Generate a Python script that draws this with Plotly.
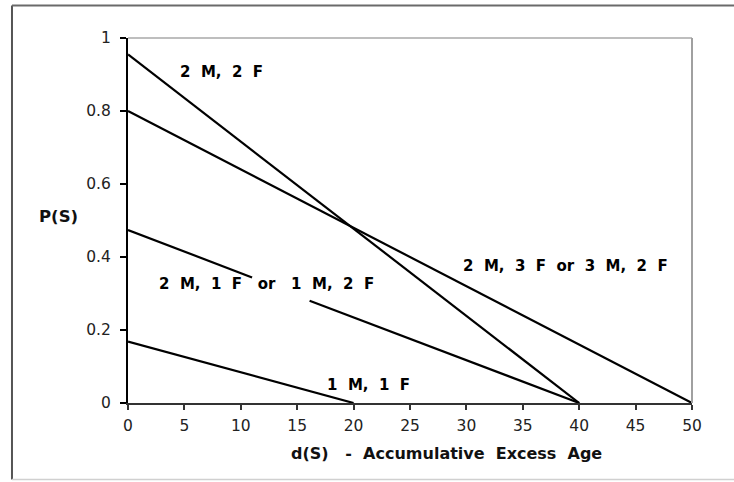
import plotly.graph_objects as go

# Survival probability P(S) against accumulated excess age d(S)
d_2m2f = [0, 40]
p_2m2f = [0.955, 0]

d_23 = [0, 50]
p_23 = [0.80, 0]

# drawn in two pieces, leaving room for its label
d_21 = [0, 11, None, 16.1, 40]
p_21 = [0.474, 0.344, None, 0.28, 0]

d_1m1f = [0, 20]
p_1m1f = [0.168, 0]

x_ticks = [0, 5, 10, 15, 20, 25, 30, 35, 40, 45, 50]
y_ticks = [0, 0.2, 0.4, 0.6, 0.8, 1]
y_tick_text = ["0", "0.2", "0.4", "0.6", "0.8", "1"]

labels = [
    ("2  M,  2  F", 8.3, 0.907),
    ("2  M,  3  F  or  3  M,  2  F", 38.8, 0.375),
    ("2  M,  1  F   or   1  M,  2  F", 12.3, 0.326),
    ("1  M,  1  F", 21.3, 0.049),
]

FONT = "DejaVu Sans"
NB = "\u00a0"


def spaced(text):
    # keep runs of spaces visible in SVG text
    return text.replace(" ", NB)


fig = go.Figure()
for xs, ys in [(d_2m2f, p_2m2f), (d_23, p_23), (d_21, p_21), (d_1m1f, p_1m1f)]:
    fig.add_trace(go.Scatter(x=xs, y=ys, mode="lines",
                             line=dict(color="black", width=2.2),
                             connectgaps=False, showlegend=False,
                             hoverinfo="skip"))

for text, x, y in labels:
    fig.add_annotation(x=x, y=y, xref="x", yref="y", text=spaced(text),
                       showarrow=False,
                       font=dict(family=FONT, size=15, color="black", weight="bold"))

# axis titles
fig.add_annotation(x=0.564, y=-0.137, xref="paper", yref="paper",
                   xanchor="center", yanchor="middle",
                   text=spaced("d(S)   -  Accumulative  Excess  Age"), showarrow=False,
                   font=dict(family=FONT, size=16, color="#111", weight="bold"))
fig.add_annotation(x=-0.124, y=0.512, xref="paper", yref="paper",
                   xanchor="center", yanchor="middle",
                   text="P(S)", showarrow=False,
                   font=dict(family=FONT, size=16.5, color="#111", weight="bold"))

shapes = [
    # plot-area frame, top and right
    dict(type="line", xref="paper", yref="paper", x0=0, x1=1, y0=1, y1=1,
         line=dict(color="#a8a8a8", width=1.5)),
    dict(type="line", xref="paper", yref="paper", x0=1, x1=1, y0=0, y1=1,
         line=dict(color="#a0a0a0", width=2)),
    # outer chart border
    dict(type="line", xref="paper", yref="paper", x0=-0.2057, x1=-0.2057, y0=-0.2096, y1=1.089,
         line=dict(color="#555", width=2)),
    dict(type="line", xref="paper", yref="paper", x0=-0.2057, x1=1.08, y0=1.089, y1=1.089,
         line=dict(color="#6a6a6a", width=2)),
    dict(type="line", xref="paper", yref="paper", x0=-0.2057, x1=1.08, y0=-0.2096, y1=-0.2096,
         line=dict(color="#d0d0d0", width=1.5)),
]

fig.update_layout(
    width=734, height=482,
    margin=dict(l=128, r=42, t=38, b=79),
    paper_bgcolor="white", plot_bgcolor="white",
    shapes=shapes,
    font=dict(family=FONT, size=15.5, color="#222"),
    xaxis=dict(range=[0, 50], tickvals=x_ticks, ticks="outside", ticklen=5,
               tickcolor="#333", tickwidth=1.5, showgrid=False, zeroline=False,
               showline=True, linecolor="#333", linewidth=2,
               ticklabelstandoff=2,
               tickfont=dict(family=FONT, size=15.5, color="#222")),
    yaxis=dict(range=[0, 1], tickvals=y_ticks, ticktext=y_tick_text, ticks="outside",
               ticklen=6, tickcolor="black", tickwidth=1.5, showgrid=False,
               zeroline=False, showline=True, linecolor="black", linewidth=2,
               ticklabelstandoff=6,
               tickfont=dict(family=FONT, size=15.5, color="#222")),
)

fig.write_html("out.html")
